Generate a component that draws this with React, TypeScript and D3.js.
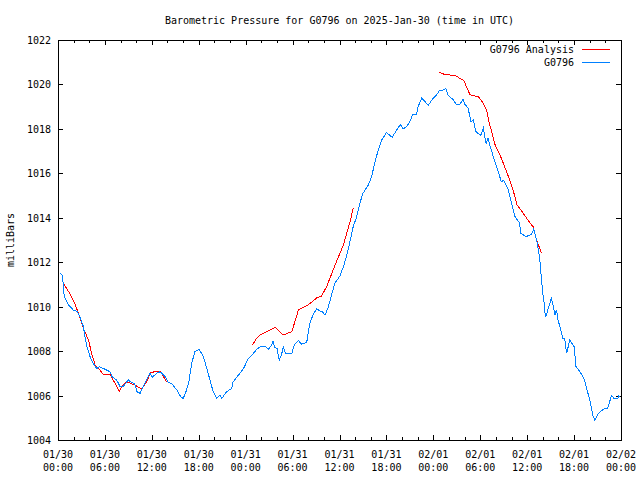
import React from "react";
import * as d3 from "d3";

const title = "Barometric Pressure for G0796 on 2025-Jan-30 (time in UTC)";
const yLabel = "milliBars";
const seriesNames = ["G0796 Analysis", "G0796"];
const seriesColors = ["#ff0000", "#0080ff"];

const yTicks = [1004, 1006, 1008, 1010, 1012, 1014, 1016, 1018, 1020, 1022];
const xTickHours = [0, 6, 12, 18, 24, 30, 36, 42, 48, 54, 60, 66, 72];
const xTickDates = ["01/30", "01/30", "01/30", "01/30", "01/31", "01/31", "01/31", "01/31", "02/01", "02/01", "02/01", "02/01", "02/02"];
const xTickTimes = ["00:00", "06:00", "12:00", "18:00", "00:00", "06:00", "12:00", "18:00", "00:00", "06:00", "12:00", "18:00", "00:00"];

// hours since 2025-01-30 00:00 UTC
const stationHours = [
  0.3, 0.55, 0.7, 0.8, 1.3, 1.95, 2.45, 2.8, 3.25, 3.45, 3.7, 4.1, 4.5, 4.95, 5.3, 5.8, 6.65, 6.9, 7.5, 7.95,
  8.35, 9.0, 9.4, 9.8, 10.1, 10.5, 11.1, 11.75, 12.05, 12.6, 13.05, 13.7, 14.1, 14.5, 15.2, 15.7, 16.0, 16.3, 16.7, 17.1,
  17.5, 18.05, 18.6, 19.2, 19.85, 20.3, 20.7, 20.95, 21.55, 22.2, 22.4, 23.25, 23.7, 24.35, 25.0, 25.4, 26.05, 26.5, 26.9, 27.3,
  27.5, 27.7, 28.0, 28.3, 28.6, 28.8, 29.1, 29.9, 30.2, 30.75, 31.15, 31.8, 32.2, 32.65, 33.1, 33.5, 33.8, 34.15, 34.55, 35.4,
  36.05, 36.6, 37.1, 37.75, 38.2, 38.6, 39.0, 39.7, 40.1, 40.5, 40.95, 41.4, 42.0, 42.75, 43.3, 43.8, 44.1, 44.6, 45.0, 45.35,
  45.85, 46.05, 46.5, 46.9, 47.35, 47.8, 48.4, 48.85, 49.25, 49.6, 49.9, 50.5, 50.9, 51.4, 51.8, 52.05, 52.45, 52.8, 53.1, 53.45,
  54.05, 54.4, 54.75, 55.0, 55.2, 55.6, 56.1, 56.7, 57.0, 57.6, 58.0, 58.45, 59.0, 59.2, 59.85, 60.55, 60.85, 61.2, 61.4, 61.6,
  61.75, 61.95, 62.15, 62.25, 62.4, 62.7, 63.1, 63.3, 63.55, 63.75, 63.95, 64.3, 64.55, 64.8, 65.05, 65.45, 66.0, 66.25, 66.75, 67.25,
  67.6, 68.0, 68.45, 68.65, 69.1, 69.95, 70.25, 70.8, 71.1, 71.6, 71.7, 71.9,
];
const stationPressure = [
  1011.5, 1011.4, 1010.9, 1010.45, 1010.1, 1009.85, 1009.78, 1009.55, 1009.1, 1008.65, 1008.2, 1007.75, 1007.45, 1007.22, 1007.3, 1007.22, 1007.07, 1006.85, 1006.7, 1006.4,
  1006.42, 1006.7, 1006.58, 1006.55, 1006.17, 1006.1, 1006.55, 1007.0, 1006.82, 1007.0, 1007.07, 1006.85, 1006.58, 1006.55, 1006.25, 1005.95, 1005.87, 1006.1, 1006.55, 1007.45,
  1007.97, 1008.08, 1007.75, 1007.0, 1006.17, 1005.87, 1006.02, 1005.87, 1006.17, 1006.32, 1006.62, 1007.0, 1007.2, 1007.67, 1007.9, 1008.08, 1008.23, 1008.22, 1008.08, 1008.25,
  1008.47, 1008.15, 1008.13, 1007.6, 1007.85, 1008.2, 1007.9, 1007.9, 1008.27, 1008.47, 1008.32, 1008.38, 1009.25, 1009.67, 1009.9, 1009.8, 1009.79, 1009.61, 1009.97, 1011.05,
  1011.38, 1011.9, 1012.55, 1013.6, 1014.05, 1014.65, 1015.1, 1015.48, 1015.85, 1016.45, 1017.05, 1017.5, 1017.83, 1017.62, 1017.95, 1018.2, 1018.0, 1018.1, 1018.33, 1018.63,
  1018.63, 1019.0, 1019.38, 1019.25, 1019.05, 1019.3, 1019.53, 1019.75, 1019.75, 1019.82, 1019.5, 1019.33, 1019.12, 1019.12, 1019.33, 1019.1, 1018.93, 1018.33, 1018.4, 1017.88,
  1017.7, 1018.03, 1017.32, 1017.58, 1017.3, 1016.83, 1016.3, 1015.62, 1015.7, 1015.25, 1014.65, 1014.05, 1013.78, 1013.3, 1013.15, 1013.26, 1013.5, 1013.0, 1012.63, 1012.17,
  1011.57, 1010.75, 1010.22, 1009.78, 1009.55, 1009.93, 1010.38, 1010.1, 1009.63, 1009.85, 1009.4, 1008.95, 1008.58, 1008.55, 1007.9, 1008.5, 1008.2, 1007.3, 1007.07, 1006.78,
  1006.33, 1005.8, 1005.05, 1004.9, 1005.2, 1005.43, 1005.4, 1006.0, 1005.87, 1005.87, 1006.0, 1005.92,
];

// analysis: three separate runs (null = gap)
const analysisHours = [
  0.68, 1.5, 2.15, 2.6, 3.25, 3.9, 4.3, 4.75, 5.35, 5.8, 6.65, 7.3, 7.85, 8.15, 8.8, 9.85, 10.7, 11.35, 11.85, 12.6, 13.1, 13.9,
  null,
  24.85, 25.35, 25.85, 26.7, 27.75, 28.8, 29.9, 30.75, 32.0, 33.1, 33.7, 34.35, 35.6, 36.5, 37.35, 37.75,
  null,
  48.75, 49.5, 50.8, 51.4, 51.9, 52.7, 53.75, 54.4, 54.8, 55.15, 55.45, 55.9, 56.7, 57.45, 58.2, 58.7, 59.5, 60.1, 60.75, 61.2, 61.85,
];
const analysisPressure = [
  1011.05, 1010.6, 1010.15, 1009.7, 1009.02, 1008.5, 1007.9, 1007.37, 1007.15, 1006.95, 1006.95, 1006.55, 1006.2, 1006.4, 1006.62, 1006.47, 1006.3, 1006.62, 1007.05, 1007.07, 1007.07, 1006.62,
  null,
  1008.26, 1008.55, 1008.73, 1008.87, 1009.07, 1008.73, 1008.87, 1009.85, 1010.08, 1010.4, 1010.48, 1010.9, 1012.02, 1012.78, 1013.82, 1014.43,
  null,
  1020.55, 1020.44, 1020.41, 1020.27, 1020.17, 1019.53, 1019.45, 1019.15, 1018.85, 1018.28, 1017.88, 1017.28, 1016.68, 1016.0, 1015.25, 1014.58, 1014.2, 1013.9, 1013.6, 1013.0, 1012.4,
];

const W = 640;
const H = 480;
const left = 58;
const right = 621;
const top = 40;
const bottom = 440;
const font = "'DejaVu Sans Mono', 'Liberation Mono', monospace";

export default function App() {
  const x = d3.scaleLinear().domain([0, 72]).range([left, right]);
  const y = d3.scaleLinear().domain([1004, 1022]).range([bottom, top]);

  const line = d3
    .line<[number | null, number | null]>()
    .defined((d) => d[0] !== null && d[1] !== null)
    .x((d) => x(d[0] as number))
    .y((d) => y(d[1] as number));

  const stationPts = stationHours.map((h, i) => [h, stationPressure[i]] as [number, number]);
  const analysisPts = analysisHours.map((h, i) => [h, analysisPressure[i]] as [number | null, number | null]);

  const minorHours = d3.range(0, 73, 2).filter((h) => h % 6 !== 0);
  const majorLen = 5;
  const minorLen = 3;

  return (
    <svg width={W} height={H} style={{ display: "block", position: "absolute", left: 0, top: 0, background: "#fff" }} fontFamily={font} fontSize={10}>
      <rect x={0} y={0} width={W} height={H} fill="#fff" />
      <text x={(left + right) / 2} y={24} textAnchor="middle" fill="#000">{title}</text>
      <text transform={`translate(14,240) rotate(-90)`} textAnchor="middle" fill="#000">{yLabel}</text>

      <g shapeRendering="crispEdges" stroke="#000" strokeWidth={1}>
        {yTicks.map((t) => (
          <g key={"y" + t}>
            <line x1={left} x2={left + majorLen} y1={Math.round(y(t)) + 0.5} y2={Math.round(y(t)) + 0.5} />
            <line x1={right - majorLen} x2={right} y1={Math.round(y(t)) + 0.5} y2={Math.round(y(t)) + 0.5} />
          </g>
        ))}
        {xTickHours.map((h) => (
          <g key={"x" + h}>
            <line x1={Math.round(x(h)) + 0.5} x2={Math.round(x(h)) + 0.5} y1={bottom} y2={bottom - majorLen} />
            <line x1={Math.round(x(h)) + 0.5} x2={Math.round(x(h)) + 0.5} y1={top} y2={top + majorLen} />
          </g>
        ))}
        {minorHours.map((h) => (
          <g key={"m" + h}>
            <line x1={Math.round(x(h)) + 0.5} x2={Math.round(x(h)) + 0.5} y1={bottom} y2={bottom - minorLen} />
            <line x1={Math.round(x(h)) + 0.5} x2={Math.round(x(h)) + 0.5} y1={top} y2={top + minorLen} />
          </g>
        ))}
        <rect x={left + 0.5} y={top + 0.5} width={right - left} height={bottom - top} fill="none" />
      </g>

      {yTicks.map((t) => (
        <text key={"yl" + t} x={51} y={y(t) + 4} textAnchor="end" fill="#000">{t}</text>
      ))}
      {xTickHours.map((h, i) => (
        <g key={"xl" + h}>
          <text x={x(h)} y={458} textAnchor="middle" fill="#000">{xTickDates[i]}</text>
          <text x={x(h)} y={471} textAnchor="middle" fill="#000">{xTickTimes[i]}</text>
        </g>
      ))}

      <path d={line(analysisPts) || ""} fill="none" stroke={seriesColors[0]} strokeWidth={1} shapeRendering="crispEdges" />
      <path d={line(stationPts) || ""} fill="none" stroke={seriesColors[1]} strokeWidth={1} shapeRendering="crispEdges" />

      {seriesNames.map((name, i) => (
        <g key={name}>
          <text x={574} y={53 + i * 13} textAnchor="end" fill="#000">{name}</text>
          <line x1={582} x2={610} y1={49.5 + i * 13} y2={49.5 + i * 13} stroke={seriesColors[i]} strokeWidth={1} shapeRendering="crispEdges" />
        </g>
      ))}
    </svg>
  );
}
